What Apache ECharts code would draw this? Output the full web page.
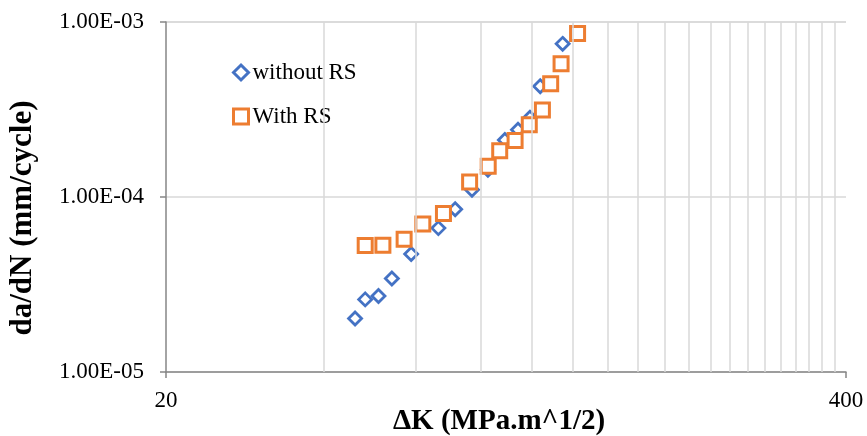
<!DOCTYPE html>
<html>
<head>
<meta charset="utf-8">
<script src="https://cdn.jsdelivr.net/npm/echarts@6/dist/echarts.min.js"></script>
<style>
html,body{margin:0;padding:0;background:#fff;}
#chart{width:867px;height:436px;}
</style>
</head>
<body>
<div id="chart"></div>
<script>
// ΔK values (MPa.m^1/2) and crack growth rates (mm/cycle)
const deltaKWithout = [46.0, 48.1, 51.0, 54.1, 58.9, 66.4, 71.5, 77.0, 82.6, 89.0, 94.3, 99.4, 104.0, 114.8];
const dadNWithout   = [2.02e-5, 2.60e-5, 2.72e-5, 3.42e-5, 4.73e-5, 6.64e-5, 8.50e-5, 1.10e-4, 1.43e-4, 2.12e-4, 2.42e-4, 2.84e-4, 4.29e-4, 7.50e-4];
const deltaKWith    = [48.1, 52.0, 57.1, 62.0, 67.9, 76.2, 82.7, 87.0, 93.1, 99.1, 105.0, 108.9, 114.0, 122.6];
const dadNWith      = [5.28e-5, 5.30e-5, 5.73e-5, 7.00e-5, 8.06e-5, 1.22e-4, 1.50e-4, 1.84e-4, 2.10e-4, 2.59e-4, 3.14e-4, 4.44e-4, 5.77e-4, 8.59e-4];
const seriesNames   = ['without RS', 'With RS'];
const xMinorGrid    = [40, 60, 80, 100, 120, 140, 160, 180, 200, 220, 240, 260, 280, 300, 320, 340, 360, 380];
const xRange        = [20, 400];
const yRange        = [1e-5, 1e-3];
const xTitle        = 'ΔK (MPa.m^1/2)';
const yTitle        = 'da/dN (mm/cycle)';

function fmtExp(v) {
  const e = Math.round(Math.log10(v));
  const m = v / Math.pow(10, e);
  const sign = e < 0 ? '-' : '+';
  const a = Math.abs(e);
  return m.toFixed(2) + 'E' + sign + (a < 10 ? '0' + a : a);
}

const FONT = 'Liberation Serif';
const chart = echarts.init(document.getElementById('chart'), null, {renderer: 'canvas'});
chart.setOption({
  animation: false,
  backgroundColor: '#fff',
  grid: {left: 166, right: 21, top: 22, height: 350, containLabel: false, outerBoundsMode: 'none'},
  legend: {
    orient: 'vertical',
    left: 227,
    top: 56,
    itemWidth: 15,
    itemHeight: 15,
    itemGap: 21,
    itemStyle: {borderWidth: 3},
    data: [
      {name: seriesNames[0], itemStyle: {borderWidth: 3}},
      {name: seriesNames[1], itemStyle: {borderWidth: 3}}
    ],
    textStyle: {fontFamily: FONT, fontSize: 23, color: '#000', padding: [0, 0, 0, -1]}
  },
  xAxis: {
    type: 'log',
    logBase: 20,
    min: xRange[0],
    max: xRange[1],
    name: xTitle,
    nameLocation: 'middle',
    nameGap: 35,
    nameMoveOverlap: false,
    nameTextStyle: {fontFamily: FONT, fontSize: 29, fontWeight: 'bold', color: '#000', padding: [0, 14, 0, 0]},
    axisLine: {lineStyle: {color: '#868686', width: 1.5}},
    axisTick: {show: true, length: 6, lineStyle: {color: '#868686', width: 1.5}},
    axisLabel: {fontFamily: FONT, fontSize: 23, color: '#000', margin: 17},
    splitLine: {show: false}
  },
  yAxis: {
    type: 'log',
    logBase: 10,
    min: yRange[0],
    max: yRange[1],
    name: yTitle,
    nameLocation: 'middle',
    nameGap: 128,
    nameMoveOverlap: false,
    nameTextStyle: {fontFamily: FONT, fontSize: 31, fontWeight: 'bold', color: '#000', padding: [0, 42, 0, 0]},
    axisLine: {show: true, lineStyle: {color: '#868686', width: 1.5}},
    axisTick: {show: true, length: 6, lineStyle: {color: '#868686', width: 1.5}},
    axisLabel: {fontFamily: FONT, fontSize: 23, color: '#000', margin: 22, formatter: fmtExp},
    splitLine: {show: true, lineStyle: {color: '#d9d9d9', width: 1.5}}
  },
  series: [
    {
      name: 'grid',
      type: 'scatter',
      data: [],
      z: 1,
      silent: true,
      markLine: {
        silent: true,
        symbol: 'none',
        animation: false,
        label: {show: false},
        lineStyle: {color: '#d9d9d9', type: 'solid', width: 1.5},
        data: xMinorGrid.map(v => ({xAxis: v}))
      }
    },
    {
      name: seriesNames[0],
      type: 'scatter',
      z: 3,
      symbol: 'diamond',
      symbolSize: 13,
      itemStyle: {color: '#fff', borderColor: '#4472C4', borderWidth: 2.8, opacity: 1},
      data: deltaKWithout.map((x, i) => [x, dadNWithout[i]])
    },
    {
      name: seriesNames[1],
      type: 'scatter',
      z: 4,
      symbol: 'rect',
      symbolSize: 14,
      itemStyle: {color: '#fff', borderColor: '#ED7D31', borderWidth: 3, opacity: 1},
      data: deltaKWith.map((x, i) => [x, dadNWith[i]])
    }
  ]
});
</script>
</body>
</html>
